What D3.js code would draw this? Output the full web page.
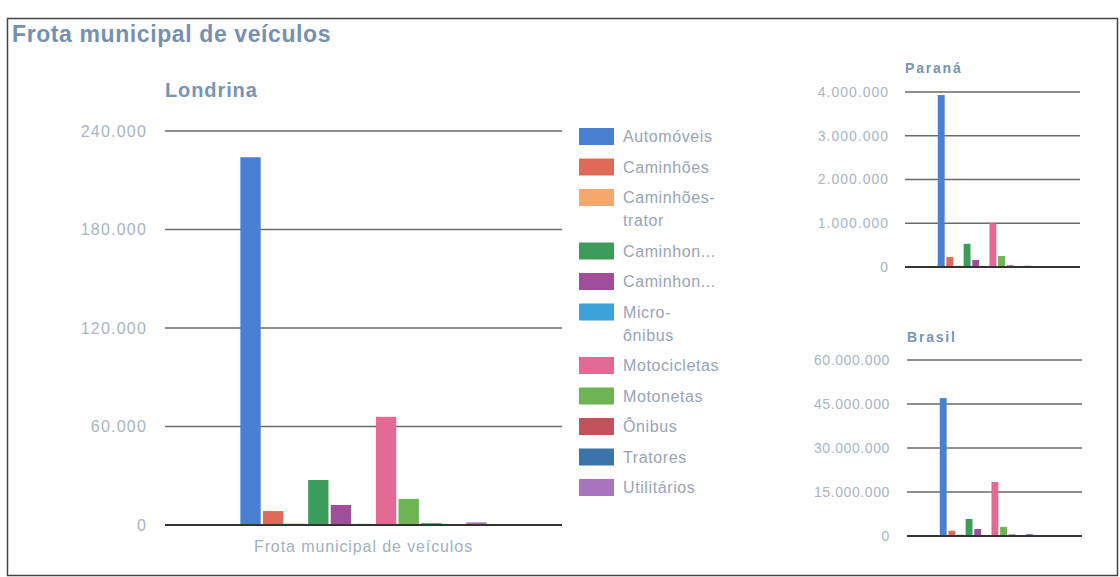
<!doctype html>
<meta charset="utf-8">
<title>Frota municipal de veículos</title>
<script src="https://cdn.jsdelivr.net/npm/d3@7"></script>
<style>
  body { margin: 0; background: #fff; }
  text { font-family: Arial, "Liberation Sans", sans-serif; }
</style>
<body>
<svg id="chart" width="1120" height="577"></svg>
<script>
    // categories and legend labels
    var categories = ["Automóveis", "Caminhões", "Caminhões-trator", "Caminhonetes", "Caminhonetas",
        "Micro-ônibus", "Motocicletas", "Motonetas", "Ônibus", "Tratores", "Utilitários"];
    var legendLabels = [["Automóveis"], ["Caminhões"], ["Caminhões-", "trator"], ["Caminhon..."], ["Caminhon..."],
        ["Micro-", "ônibus"], ["Motocicletas"], ["Motonetas"], ["Ônibus"], ["Tratores"], ["Utilitários"]];
    var colors = ["#4a80d2", "#df6a58", "#f6a86c", "#3c9c5a", "#a04e9c",
        "#3ca2da", "#e26a95", "#6cb454", "#c5525a", "#3b73ab", "#a874bf"];

    // values
    var londrina = [224000, 8500, 900, 27400, 12200, 700, 65900, 15900, 1100, 300, 1600];
    var parana   = [3930000, 230000, 30000, 530000, 160000, 20000, 1000000, 250000, 40000, 20000, 30000];
    var brasil   = [47000000, 1800000, 500000, 5800000, 2400000, 350000, 18400000, 3100000, 550000, 30000, 700000];

    var londrinaTicks = [0, 60000, 120000, 180000, 240000];
    var paranaTicks   = [0, 1000000, 2000000, 3000000, 4000000];
    var brasilTicks   = [0, 15000000, 30000000, 45000000, 60000000];

    var group = "Frota municipal de veículos";

    var fmt = d3.formatLocale({ thousands: ".", grouping: [3], decimal: ",", currency: ["", ""] }).format(",d");

    var svg = d3.select("#chart");

    // outer frame
    svg.append("rect")
        .attr("x", 7.5).attr("y", 18.5)
        .attr("width", 1110).attr("height", 557)
        .attr("fill", "none")
        .attr("stroke", "#444")
        .attr("stroke-width", 1.5);

    svg.append("text")
        .attr("x", 12).attr("y", 42)
        .attr("font-size", 23).attr("font-weight", "bold")
        .attr("letter-spacing", 0.6)
        .attr("fill", "#7590b0")
        .text("Frota municipal de veículos");

    function drawPanel(opt) {
        var g = svg.append("g");

        var y = d3.scaleLinear().domain(opt.domain).range([opt.y0, opt.y1]);

        var outer = d3.scaleBand().domain([group])
            .range([opt.x0, opt.x1])
            .paddingInner(0).paddingOuter(opt.outerPad).align(opt.align);

        var inner = d3.scaleBand().domain(categories)
            .range([0, outer.bandwidth()])
            .paddingInner(opt.innerPad);

        // title
        g.append("text")
            .attr("x", opt.titleX).attr("y", opt.titleY)
            .attr("font-size", opt.titleSize).attr("font-weight", "bold")
            .attr("letter-spacing", opt.titleSpacing)
            .attr("fill", "#7894b4")
            .text(opt.title);

        // gridlines
        g.selectAll("line.grid")
            .data(opt.ticks.filter(function(d) { return d !== 0; }))
            .enter().append("line")
            .attr("class", "grid")
            .attr("x1", opt.x0).attr("x2", opt.x1)
            .attr("y1", function(d) { return y(d); })
            .attr("y2", function(d) { return y(d); })
            .attr("stroke", "#6a6a6a")
            .attr("stroke-width", 1.3);

        // tick labels
        g.selectAll("text.tick")
            .data(opt.ticks)
            .enter().append("text")
            .attr("class", "tick")
            .attr("x", opt.labelX)
            .attr("y", function(d) { return y(d); })
            .attr("dy", "0.35em")
            .attr("text-anchor", "end")
            .attr("font-size", opt.tickSize)
            .attr("letter-spacing", opt.tickSpacing)
            .attr("fill", "#a9b4c6")
            .text(function(d) { return fmt(d); });

        // bars
        g.selectAll("rect.bar")
            .data(opt.values)
            .enter().append("rect")
            .attr("class", "bar")
            .attr("x", function(d, i) { return outer(group) + inner(categories[i]); })
            .attr("width", inner.bandwidth())
            .attr("y", function(d) { return y(d); })
            .attr("height", function(d) { return y(0) - y(d); })
            .attr("fill", function(d, i) { return colors[i]; });

        // baseline
        g.append("line")
            .attr("x1", opt.x0).attr("x2", opt.x1)
            .attr("y1", y(0)).attr("y2", y(0))
            .attr("stroke", "#333")
            .attr("stroke-width", 2);

        if (opt.xLabel) {
            g.append("text")
                .attr("x", outer(group) + outer.bandwidth() / 2)
                .attr("y", y(0) + 27)
                .attr("text-anchor", "middle")
                .attr("font-size", 16)
                .attr("letter-spacing", 0.9)
                .attr("fill", "#a3afc4")
                .text(group);
        }
    }

    drawPanel({
        title: "Londrina", titleX: 165, titleY: 97, titleSize: 20, titleSpacing: 0.9,
        values: londrina, ticks: londrinaTicks, domain: [0, 240000],
        x0: 165, x1: 562, y0: 525, y1: 131,
        outerPad: 0.306, align: 0.5, innerPad: 0.1,
        labelX: 147, tickSize: 16, tickSpacing: 1.2, xLabel: true
    });

    drawPanel({
        title: "Paraná", titleX: 905, titleY: 73, titleSize: 14, titleSpacing: 1.8,
        values: parana, ticks: paranaTicks, domain: [0, 4000000],
        x0: 905, x1: 1080, y0: 267, y1: 92,
        outerPad: 0.44, align: 0.4, innerPad: 0.2,
        labelX: 889, tickSize: 14, tickSpacing: 1, xLabel: false
    });

    drawPanel({
        title: "Brasil", titleX: 907, titleY: 342, titleSize: 14, titleSpacing: 1.8,
        values: brasil, ticks: brasilTicks, domain: [0, 60000000],
        x0: 907, x1: 1082, y0: 536, y1: 360,
        outerPad: 0.44, align: 0.4, innerPad: 0.2,
        labelX: 890, tickSize: 14, tickSpacing: 0.6, xLabel: false
    });

    // legend
    var legend = svg.append("g");
    var ly = 128;
    legendLabels.forEach(function(lines, i) {
        var row = legend.append("g").attr("transform", "translate(579," + ly + ")");
        row.append("rect")
            .attr("width", 35).attr("height", 17)
            .attr("fill", colors[i]);
        row.selectAll("text")
            .data(lines)
            .enter().append("text")
            .attr("x", 44)
            .attr("y", function(d, j) { return 14 + j * 23; })
            .attr("font-size", 16)
            .attr("letter-spacing", 0.6)
            .attr("fill", "#97a3ba")
            .text(function(d) { return d; });
        ly += 30.5 + (lines.length - 1) * 23;
    });
</script>
</body>
</html>
